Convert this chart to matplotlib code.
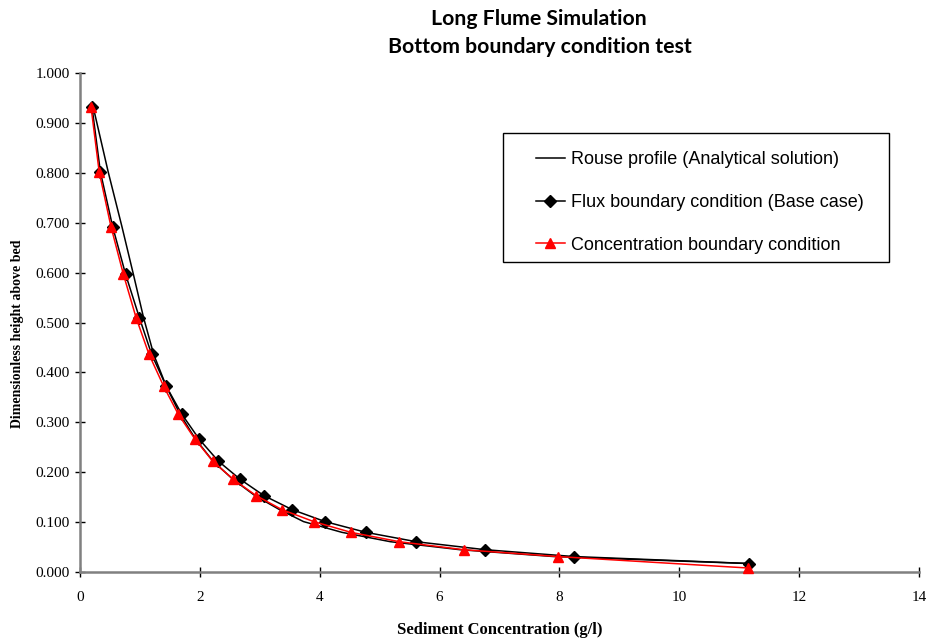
import matplotlib
matplotlib.use("Agg")
import matplotlib.pyplot as plt
from matplotlib.patches import Rectangle
from matplotlib.ticker import FormatStrFormatter

# ---- data ----
heights = [0.932, 0.802, 0.692, 0.597, 0.510, 0.436, 0.372, 0.316, 0.266, 0.222,
           0.186, 0.153, 0.125, 0.101, 0.0795, 0.0607, 0.0447, 0.031, 0.017]
rouse_conc = [0.22, 0.47, 0.70, 0.89, 1.06, 1.23, 1.44, 1.67, 1.93, 2.22,
              2.55, 2.92, 3.33, 3.73, 4.37, 5.18, 6.34, 7.90, 11.15]
flux_conc = [0.20, 0.34, 0.545, 0.76, 0.99, 1.196, 1.44, 1.70, 1.99, 2.31,
             2.67, 3.07, 3.54, 4.09, 4.77, 5.61, 6.76, 8.24, 11.17]
conc_heights = [0.932, 0.802, 0.692, 0.597, 0.510, 0.436, 0.372, 0.316, 0.266, 0.222,
                0.186, 0.153, 0.125, 0.101, 0.0795, 0.0607, 0.0447, 0.031, 0.008]
conc_conc = [0.184, 0.32, 0.517, 0.723, 0.935, 1.152, 1.397, 1.64, 1.92, 2.215,
             2.554, 2.94, 3.37, 3.90, 4.52, 5.33, 6.40, 7.97, 11.15]
x_ticks = [0, 2, 4, 6, 8, 10, 12, 14]
y_ticks = [0.0, 0.1, 0.2, 0.3, 0.4, 0.5, 0.6, 0.7, 0.8, 0.9, 1.0]
labels = ["Rouse profile (Analytical solution)",
          "Flux boundary condition (Base case)",
          "Concentration boundary condition"]
title_lines = ["Long Flume Simulation", "Bottom boundary condition test"]

W, H = 927, 641
fig = plt.figure(figsize=(W / 100, H / 100), dpi=100)
ax = fig.add_axes([80 / W, 1 - 572 / H, (919 - 80) / W, (572 - 73) / H])

l1, = ax.plot(rouse_conc, heights, color="black", lw=1.1, zorder=3)
l2, = ax.plot(flux_conc, heights, color="black", lw=1.1, marker="D",
              markersize=5.8, zorder=4)
l3, = ax.plot(conc_conc, conc_heights, color="#ff0000", lw=1.1, marker="^",
              markersize=7, zorder=5)

ax.set_xlim(0, 14)
ax.set_ylim(0, 1)
ax.set_xticks(x_ticks)
ax.set_yticks(y_ticks)
ax.yaxis.set_major_formatter(FormatStrFormatter("%.3f"))
for s in ("top", "right"):
    ax.spines[s].set_visible(False)
for s in ("left", "bottom"):
    ax.spines[s].set_color("#808080")
    ax.spines[s].set_linewidth(1.8)
ax.tick_params(direction="inout", length=7, width=1, color="black",
               labelsize=11, pad=4)
for lab in ax.get_xticklabels() + ax.get_yticklabels():
    lab.set_fontfamily("Liberation Serif")
ax.tick_params(axis="x", pad=10)
for ln in (l1, l2, l3):
    ln.set_clip_on(False)

ax.set_xlabel("Sediment Concentration (g/l)", fontfamily="Liberation Serif",
              fontweight="bold", fontsize=12, labelpad=13)
fig.text(18 / W, 1 - 334 / H, "Dimensionless height above bed",
         fontfamily="Liberation Serif", fontweight="bold", fontsize=10,
         rotation=90, ha="center", va="center")

fig.text(539 / W, 1 - 19 / H, title_lines[0], fontfamily="Lato",
         fontweight="bold", fontsize=15.3, ha="center", va="center")
fig.text(540 / W, 1 - 47 / H, title_lines[1], fontfamily="Lato",
         fontweight="bold", fontsize=15.3, ha="center", va="center")

# legend box
fig.patches.append(Rectangle((503 / W, 1 - 262 / H), (889 - 503) / W, (262 - 133) / H,
                             transform=fig.transFigure, facecolor="white",
                             edgecolor="black", lw=1, zorder=1))
leg = fig.legend([l1, l2, l3], labels, loc="upper left",
                 bbox_to_anchor=(527 / W, 1 - 142 / H), bbox_transform=fig.transFigure,
                 frameon=False, borderpad=0, handlelength=1.6, handletextpad=0.35,
                 labelspacing=1.43, prop={"family": "Liberation Sans", "size": 13})
leg.set_zorder(2)

fig.savefig("out.png", dpi=100)
